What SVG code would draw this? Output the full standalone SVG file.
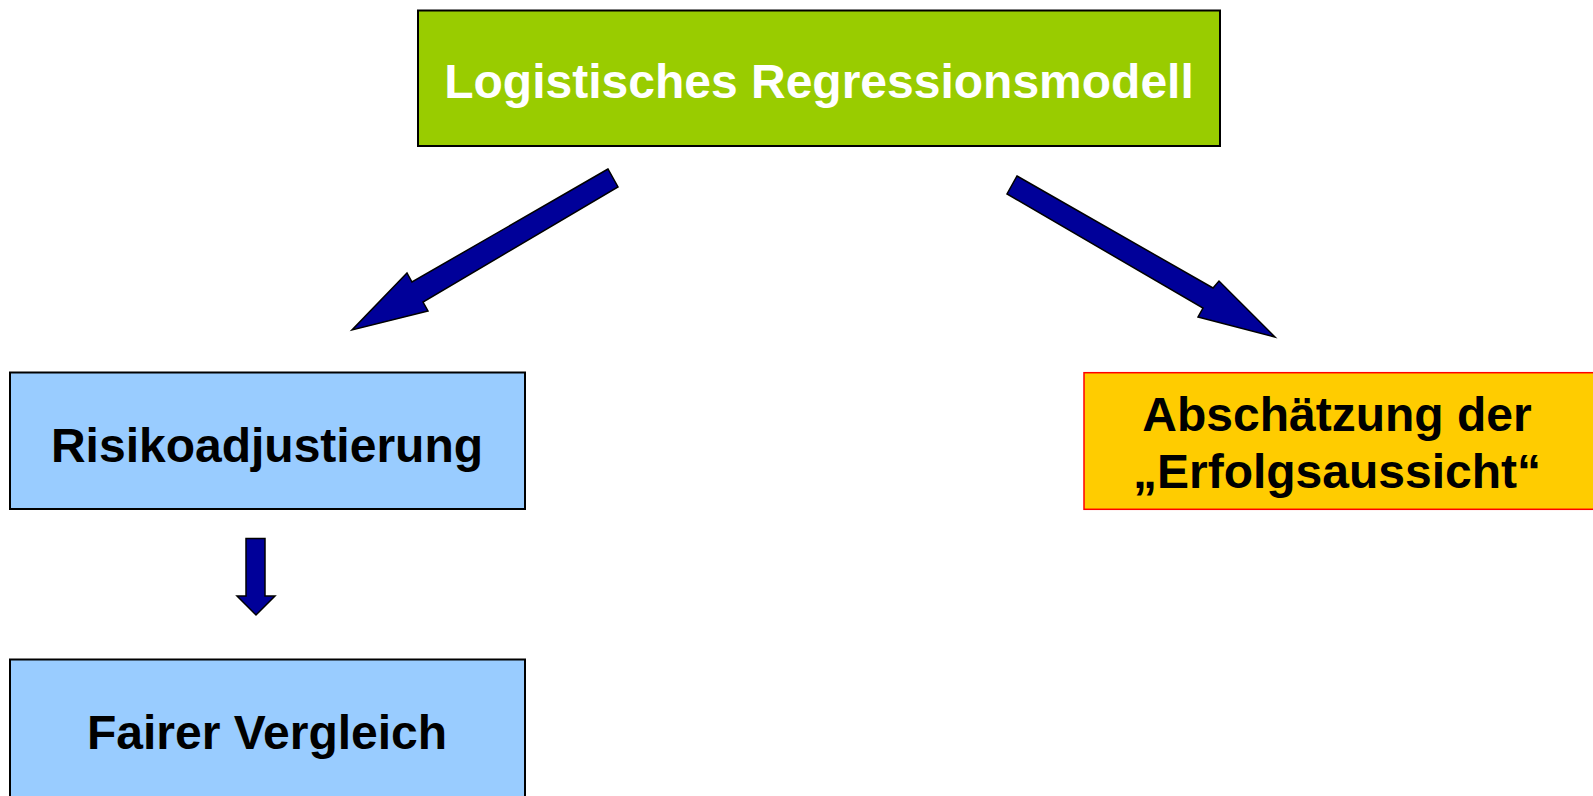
<svg xmlns="http://www.w3.org/2000/svg" width="1593" height="796" viewBox="0 0 1593 796">
<style>
.box{stroke:#000;stroke-width:2}
.t{font-family:"Liberation Sans",Arial,sans-serif;font-weight:bold;font-size:48px;text-anchor:middle}
.arrow{fill:#000099;stroke:#000;stroke-width:1.5;stroke-linejoin:miter}
</style>
<rect width="1593" height="796" fill="#fff"/>
<g id="node-logistisch">
<rect class="box" x="418" y="10.5" width="802" height="135.5" fill="#99CC00"/>
<text class="t" x="819" y="97.5" fill="#fff">Logistisches Regressionsmodell</text>
</g>
<g id="node-risiko">
<rect class="box" x="10" y="372.5" width="515" height="136.5" fill="#99CCFF"/>
<text class="t" x="267" y="462" fill="#000">Risikoadjustierung</text>
</g>
<g id="node-fair">
<rect class="box" x="10" y="659.5" width="515" height="140" fill="#99CCFF"/>
<text class="t" x="267" y="749" fill="#000">Fairer Vergleich</text>
</g>
<g id="node-erfolg">
<rect x="1084" y="372.7" width="520" height="136.6" fill="#FFCC00" stroke="#FF0000" stroke-width="1.5"/>
<text class="t" x="1337" y="430.7" fill="#000">Abschätzung der</text>
<text class="t" x="1337" y="488" fill="#000">„Erfolgsaussicht“</text>
</g>
<g id="connectors">
<polygon class="arrow" points="608,169 412,282 407,273 352,330 428,311 423,302 618,187"/>
<polygon class="arrow" points="1017,176 1213,288 1219,281 1275,337 1198,317 1203,308 1007,194"/>
<polygon class="arrow" points="246,538.5 265,538.5 265,596 275,596 256,615 237,596 246,596"/>
</g>
</svg>
